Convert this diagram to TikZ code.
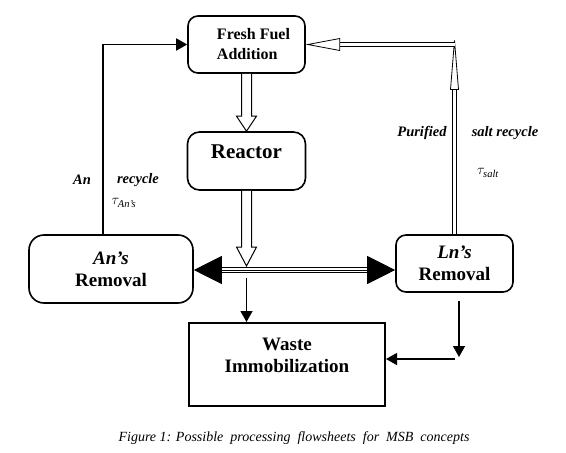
\documentclass[tikz,border=0pt]{standalone}
\usepackage{fontspec}
\usepackage{amsmath}
\setmainfont{Liberation Serif}
\usepackage{tikz}
\usetikzlibrary{arrows.meta,positioning,calc}
\tikzstyle{box}    = [draw, line width=1.6pt, align=center, inner sep=0pt, font=\bfseries\fontsize{19}{22}\selectfont]
\tikzstyle{lbl}    = [font=\bfseries\itshape\fontsize{14.5}{17}\selectfont, inner sep=0pt]
\tikzstyle{flow}   = [-{Triangle[length=11pt,width=12pt]}, line width=1.3pt]
\tikzstyle{big}    = [-{Triangle[length=28pt,width=28pt]}, line width=1pt]
\tikzstyle{hollow} = [draw, fill=white, line width=1pt]
\tikzstyle{thin}   = [line width=0.8pt, double distance=3pt]

\begin{document}
\begin{tikzpicture}[x=1pt, y=-1pt]
		\useasboundingbox (0,0) rectangle (566,453);
		% process boxes
		\node[box, rounded corners=10pt, minimum width=117pt, minimum height=57pt, font=\bfseries\fontsize{16}{20}\selectfont, align=left] (fuel) at (246.5,44.5) {\hspace*{14pt}Fresh Fuel\\\hspace*{14pt}Addition};
		\node[box, rounded corners=12pt, minimum width=118pt, minimum height=58pt, font=\bfseries\fontsize{21}{25}\selectfont] (reactor) at (246.5,161) {Reactor\\[-7pt]\mbox{}};
		\node[box, rounded corners=15pt, minimum width=164pt, minimum height=68pt] (an) at (111,269) {\textit{An’s}\\Removal};
		\node[box, rounded corners=10pt, minimum width=117pt, minimum height=57pt] (ln) at (454.5,263.5) {\textit{Ln’s}\\Removal};
		\node[box, line width=2pt, minimum width=196pt, minimum height=83pt] (waste) at (287,364.5) {Waste\\Immobilization\\[-4pt]\mbox{}};

		% fresh fuel to reactor
		\coordinate (tip1) at (fuel.south |- reactor.north);
		\draw[hollow] ($(fuel.south)+(-5,0)$) -- ($(tip1)+(-5,-15)$) -- ++(-5,0) -- (tip1) -- ++(10,-15) -- ++(-5,0) -- ($(fuel.south)+(5,0)$);

		% reactor outlet, split to both removals
		\coordinate (junc) at (reactor.south |- 0,270);
		\coordinate (tip2) at ($(junc)+(0,-4)$);
		\draw[line width=0.9pt, double distance=4pt] ($(an.east |- junc)+(25,0)$) -- ($(ln.west |- junc)+(-25,0)$);
		\draw[big] (junc) -- (an.east |- junc);
		\draw[big] (junc) -- (ln.west |- junc);
		\draw[hollow] ($(reactor.south)+(-5,0)$) -- ($(tip2)+(-5,-19)$) -- ++(-5,0) -- (tip2) -- ++(10,-19) -- ++(-5,0) -- ($(reactor.south)+(5,0)$);
		\draw[flow, shorten <=8pt] (junc) -- (junc |- waste.north);

		% An recycle
		\draw[flow, line width=1.6pt] ([xshift=-8pt]an.north) |- (fuel.west);
		\node[lbl] (anword) at (82,180) {An};
		\node[lbl] (anrec) at (138,180) {recycle};
		\node[inner sep=0pt, font=\fontsize{15}{18}\selectfont] (antau) at (124,203) {$\tau_{\text{\itshape An’s}}$};

		% purified salt recycle
		\coordinate (corner) at (fuel.east -| ln.north);
		\draw[thin] (ln.north) -- ($(corner)+(0,45)$);
		\draw[hollow, line width=0.8pt] ($(corner)+(-4,45)$) -- ($(corner)+(0,-4)$) -- ($(corner)+(4,45)$) -- cycle;
		\draw[thin] (corner) -- ($(fuel.east)+(33,0)$);
		\draw[hollow, line width=0.8pt] ($(fuel.east)+(34,-6)$) -- ($(fuel.east)+(2,0)$) -- ($(fuel.east)+(34,6)$) -- cycle;
		\node[lbl] (purif) at (422,133) {Purified};
		\node[lbl] (saltrec) at (505,133) {salt recycle};
		\node[inner sep=0pt, font=\fontsize{15}{18}\selectfont] (salttau) at (488,173) {$\tau_{\text{\itshape salt}}$};

		% Ln's removal to waste
		\coordinate (drop) at (459,357);
		\coordinate (bend) at (455,359);
		\draw[flow, shorten <=8pt] (ln.south -| drop) -- (drop);
		\draw[flow] (bend) -- (bend -| waste.east);

		\node[font=\itshape\fontsize{14}{17}\selectfont, inner sep=0pt] (caption) at (294,438) {Figure 1: Possible\ \ processing\ \ flowsheets\ \ for\ \ MSB\ \ concepts};
	\end{tikzpicture}
\end{document}
